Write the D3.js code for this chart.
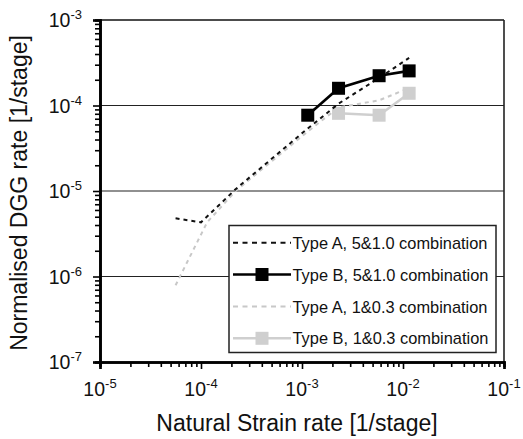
<!DOCTYPE html>
<html><head><meta charset="utf-8">
<script src="https://cdn.jsdelivr.net/npm/d3@7"></script>
<style>body{margin:0;background:#fff;} svg{display:block;}</style>
</head><body>
<svg id="c" width="523" height="439"></svg>
<script>
// Data
const seriesNames = ["Type A, 5&1.0 combination","Type B, 5&1.0 combination","Type A, 1&0.3 combination","Type B, 1&0.3 combination"];
const typeA51_x = [5.6e-5, 1.0e-4, 2.2e-4, 1.1e-3, 2.3e-3, 5.8e-3, 1.15e-2];
const typeA51_y = [4.8e-6, 4.3e-6, 1.05e-5, 5.2e-5, 1.05e-4, 2.1e-4, 3.6e-4];
const typeB51_x = [1.14e-3, 2.3e-3, 5.8e-3, 1.15e-2];
const typeB51_y = [7.7e-5, 1.59e-4, 2.23e-4, 2.54e-4];
const typeA03_x = [5.6e-5, 1.15e-4, 2.2e-4, 1.1e-3, 2.3e-3, 5.8e-3, 1.15e-2];
const typeA03_y = [7.9e-7, 4.3e-6, 1.0e-5, 4.8e-5, 9.5e-5, 1.15e-4, 1.6e-4];
const typeB03_x = [2.3e-3, 5.8e-3, 1.15e-2];
const typeB03_y = [8.1e-5, 7.7e-5, 1.39e-4];
const xTickExp = [-5, -4, -3, -2, -1];
const yTickExp = [-7, -6, -5, -4, -3];
const gridExp = [-6, -5, -4];

const svg = d3.select("#c");
const L = 100, R = 504, T = 20, B = 362;
const x = d3.scaleLog().domain([1e-5, 1e-1]).range([L, R]);
const y = d3.scaleLog().domain([1e-7, 1e-3]).range([B, T]);
const font = "Liberation Sans, Arial, Helvetica, sans-serif";

function minorVals(lo, hi) {
  const v = [];
  for (let e = lo; e < hi; e++) for (let m = 2; m <= 9; m++) v.push(m * Math.pow(10, e));
  return v;
}

// gridlines
svg.append("g").selectAll("line").data(gridExp).join("line")
  .attr("x1", L).attr("x2", R)
  .attr("y1", d => y(Math.pow(10, d))).attr("y2", d => y(Math.pow(10, d)))
  .attr("stroke", "#222").attr("stroke-width", 1.1);

// frame top/right
svg.append("line").attr("x1", L).attr("x2", R).attr("y1", T).attr("y2", T).attr("stroke", "#111").attr("stroke-width", 1.6);
svg.append("line").attr("x1", R).attr("x2", R).attr("y1", T).attr("y2", B).attr("stroke", "#222").attr("stroke-width", 1.6);

// axes: minor ticks
const gxMin = svg.append("g").attr("transform", `translate(0,${B})`)
  .call(d3.axisBottom(x).tickValues(minorVals(-5, -1)).tickSize(5).tickFormat(""));
const gxMaj = svg.append("g").attr("transform", `translate(0,${B})`)
  .call(d3.axisBottom(x).tickValues(xTickExp.map(e => Math.pow(10, e))).tickSize(7).tickFormat(""));
const gyMin = svg.append("g").attr("transform", `translate(${L},0)`)
  .call(d3.axisLeft(y).tickValues(minorVals(-7, -3)).tickSize(5).tickFormat(""));
const gyMaj = svg.append("g").attr("transform", `translate(${L},0)`)
  .call(d3.axisLeft(y).tickValues(yTickExp.map(e => Math.pow(10, e))).tickSize(7).tickFormat(""));
[gxMin, gxMaj, gyMin, gyMaj].forEach(g => {
  g.select(".domain").attr("stroke", "#000").attr("stroke-width", 2.6);
  g.selectAll(".tick line").attr("stroke", "#000").attr("stroke-width", 1.6);
});

// tick labels
const xl = svg.append("g").attr("font-family", font).attr("fill", "#111");
xTickExp.forEach(e => {
  const t = xl.append("text").attr("x", x(Math.pow(10, e))).attr("y", 396).attr("text-anchor", "middle");
  t.append("tspan").attr("font-size", 19.5).text("10");
  t.append("tspan").attr("font-size", 13).attr("dy", -8).text(String(e));
});
const yl = svg.append("g").attr("font-family", font).attr("fill", "#111");
yTickExp.forEach(e => {
  const t = yl.append("text").attr("x", 82).attr("y", y(Math.pow(10, e)) + 7).attr("text-anchor", "end");
  t.append("tspan").attr("font-size", 19.5).text("10");
  t.append("tspan").attr("font-size", 13).attr("dy", -8).text(String(e));
});

// axis titles
svg.append("text").attr("x", (L + R) / 2 - 5).attr("y", 431).attr("text-anchor", "middle")
  .attr("font-family", font).attr("font-size", 23).attr("fill", "#111").text("Natural Strain rate [1/stage]");
svg.append("text").attr("transform", `translate(27,${(T + B) / 2 + 2}) rotate(-90)`).attr("text-anchor", "middle")
  .attr("font-family", font).attr("font-size", 23).attr("fill", "#111").text("Normalised DGG rate [1/stage]");

// series
const line = d3.line().x(d => x(d[0])).y(d => y(d[1]));
const zip = (a, b) => a.map((v, i) => [v, b[i]]);
const gA03 = "#c8c8c8", gB03 = "#cfcfcf";

svg.append("path").datum(zip(typeA03_x, typeA03_y)).attr("d", line)
  .attr("fill", "none").attr("stroke", gA03).attr("stroke-width", 2).attr("stroke-dasharray", "4,4");
svg.append("path").datum(zip(typeB03_x, typeB03_y)).attr("d", line)
  .attr("fill", "none").attr("stroke", gB03).attr("stroke-width", 2.5);
svg.append("g").selectAll("rect").data(zip(typeB03_x, typeB03_y)).join("rect")
  .attr("x", d => x(d[0]) - 6.5).attr("y", d => y(d[1]) - 6.5).attr("width", 13).attr("height", 13).attr("fill", gB03);

svg.append("path").datum(zip(typeA51_x, typeA51_y)).attr("d", line)
  .attr("fill", "none").attr("stroke", "#111").attr("stroke-width", 2).attr("stroke-dasharray", "4,4");
svg.append("path").datum(zip(typeB51_x, typeB51_y)).attr("d", line)
  .attr("fill", "none").attr("stroke", "#000").attr("stroke-width", 2.6);
svg.append("g").selectAll("rect").data(zip(typeB51_x, typeB51_y)).join("rect")
  .attr("x", d => x(d[0]) - 6.5).attr("y", d => y(d[1]) - 6.5).attr("width", 13).attr("height", 13).attr("fill", "#000");

// legend
const lg = svg.append("g");
lg.append("rect").attr("x", 229).attr("y", 225.5).attr("width", 267).attr("height", 127)
  .attr("fill", "#fff").attr("stroke", "#222").attr("stroke-width", 1.5);
const styles = [
  {c: "#111", w: 2, dash: "5,4.5", m: false},
  {c: "#000", w: 2.6, dash: null, m: true},
  {c: gA03, w: 2, dash: "5,4.5", m: false},
  {c: gB03, w: 2.5, dash: null, m: true}
];
const ly = [242.7, 274.5, 306.5, 338.3];
seriesNames.forEach((n, i) => {
  const s = styles[i];
  const ln = lg.append("line").attr("x1", 233).attr("x2", 291).attr("y1", ly[i]).attr("y2", ly[i])
    .attr("stroke", s.c).attr("stroke-width", s.w);
  if (s.dash) ln.attr("stroke-dasharray", s.dash);
  if (s.m) lg.append("rect").attr("x", 262 - 6.5).attr("y", ly[i] - 6.5).attr("width", 13).attr("height", 13).attr("fill", s.c);
  lg.append("text").attr("x", 292.5).attr("y", ly[i] + 6).attr("font-family", font).attr("font-size", 16.4)
    .attr("fill", "#111").text(n);
});
</script>
</body></html>
